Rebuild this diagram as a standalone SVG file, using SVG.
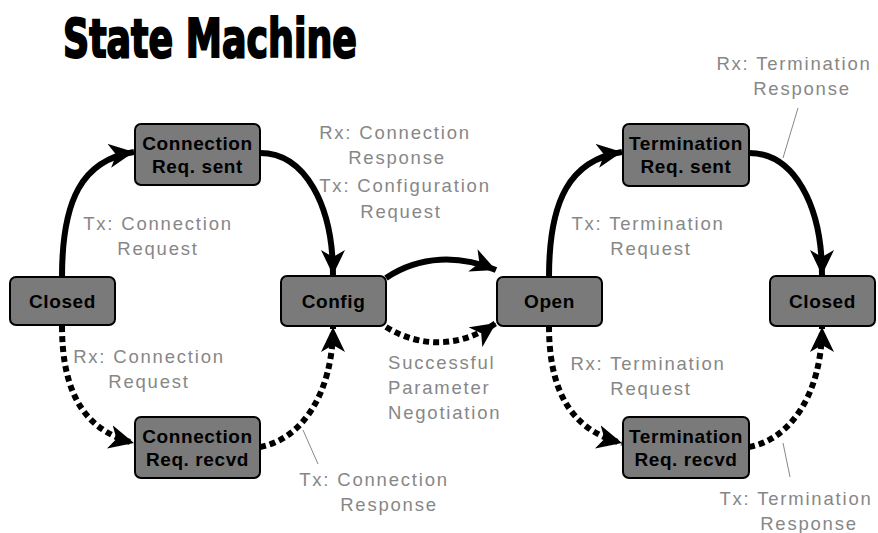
<svg xmlns="http://www.w3.org/2000/svg" width="878" height="533" viewBox="0 0 878 533">
  <style>
    .node rect { fill: #7a7a7a; stroke: #000; stroke-width: 2; }
    .node text { font-family: "Liberation Sans", Arial, sans-serif; font-weight: bold; font-size: 19px; fill: #000; text-anchor: middle; letter-spacing: 0.6px; }
    .edge { fill: none; stroke: #000; stroke-width: 6; }
    .dotted { stroke-dasharray: 6 4; }
    .lbl { font-family: "Liberation Sans", Arial, sans-serif; font-size: 18.5px; fill: #878787; letter-spacing: 1.8px; }
    .mid { text-anchor: middle; }
    .leader { stroke: #888; stroke-width: 1; fill: none; }
    .title { font-family: "DejaVu Sans Condensed", "DejaVu Sans", sans-serif; font-weight: bold; font-size: 54px; fill: #000; stroke: #000; stroke-width: 2; }
  </style>
  <defs>
    <marker id="arrow" markerUnits="userSpaceOnUse" markerWidth="26" markerHeight="24" refX="25" refY="12" orient="auto">
      <path d="M0,0 L25,12 L0,24 L7,12 Z" fill="#000"/>
    </marker>
  </defs>

  <rect width="878" height="533" fill="#fff"/>

  <text class="title" x="63" y="57" textLength="294" lengthAdjust="spacingAndGlyphs">State Machine</text>

  <!-- connectors -->
  <g id="connectors">
    <path class="edge" d="M62,277 C62,200 82,160 134,152" marker-end="url(#arrow)"/>
    <path class="edge" d="M260,153 C305,153 333,205 333,275" marker-end="url(#arrow)"/>
    <path class="edge dotted" d="M62,326 C62,400 90,432 134,443" marker-end="url(#arrow)"/>
    <path class="edge dotted" d="M260,447 C300,440 333,395 333,327" marker-end="url(#arrow)"/>
    <path class="edge" d="M386,278 C420,255 460,255 496,270" marker-end="url(#arrow)"/>
    <path class="edge dotted" d="M386,327 C420,348 460,348 496,323" marker-end="url(#arrow)"/>
    <path class="edge" d="M549,277 C549,200 570,160 622,152" marker-end="url(#arrow)"/>
    <path class="edge" d="M749,153 C794,153 822,205 822,275" marker-end="url(#arrow)"/>
    <path class="edge dotted" d="M549,326 C549,400 578,432 622,443" marker-end="url(#arrow)"/>
    <path class="edge dotted" d="M749,447 C789,440 822,395 822,327" marker-end="url(#arrow)"/>
    <!-- label leaders -->
    <path class="leader" d="M303,430 L318,464"/>
    <path class="leader" d="M798,108 L783,158"/>
    <path class="leader" d="M783,443 L790,477"/>
  </g>

  <!-- states -->
  <g id="closed-left" class="node">
    <rect x="10" y="277" width="105" height="48" rx="6"/>
    <text x="62.5" y="308">Closed</text>
  </g>
  <g id="conn-req-sent" class="node">
    <rect x="135" y="124" width="125" height="61" rx="6"/>
    <text x="197.5" y="150">Connection</text>
    <text x="197.5" y="173">Req. sent</text>
  </g>
  <g id="conn-req-recvd" class="node">
    <rect x="135" y="417" width="125" height="61" rx="6"/>
    <text x="197.5" y="443">Connection</text>
    <text x="197.5" y="466">Req. recvd</text>
  </g>
  <g id="config" class="node">
    <rect x="281" y="276" width="105" height="50" rx="6"/>
    <text x="333.5" y="308">Config</text>
  </g>
  <g id="open" class="node">
    <rect x="497" y="277" width="105" height="49" rx="6"/>
    <text x="549.5" y="308">Open</text>
  </g>
  <g id="term-req-sent" class="node">
    <rect x="623" y="124" width="126" height="62" rx="6"/>
    <text x="686" y="150">Termination</text>
    <text x="686" y="173">Req. sent</text>
  </g>
  <g id="term-req-recvd" class="node">
    <rect x="623" y="417" width="126" height="61" rx="6"/>
    <text x="686" y="443">Termination</text>
    <text x="686" y="466">Req. recvd</text>
  </g>
  <g id="closed-right" class="node">
    <rect x="770" y="276" width="105" height="50" rx="6"/>
    <text x="822.5" y="308">Closed</text>
  </g>

  <!-- transition labels -->
  <g id="labels">
    <text class="lbl mid" x="158" y="230">Tx: Connection</text>
    <text class="lbl mid" x="158" y="255">Request</text>

    <text class="lbl mid" x="149" y="363">Rx: Connection</text>
    <text class="lbl mid" x="149" y="388">Request</text>

    <text class="lbl mid" x="395" y="139">Rx: Connection</text>
    <text class="lbl mid" x="397" y="164">Response</text>
    <text class="lbl mid" x="405" y="192">Tx: Configuration</text>
    <text class="lbl mid" x="401" y="218">Request</text>

    <text class="lbl" x="388" y="369">Successful</text>
    <text class="lbl" x="388" y="394">Parameter</text>
    <text class="lbl" x="388" y="419">Negotiation</text>

    <text class="lbl mid" x="374" y="486">Tx: Connection</text>
    <text class="lbl mid" x="389" y="511">Response</text>

    <text class="lbl mid" x="794" y="70">Rx: Termination</text>
    <text class="lbl mid" x="802" y="95">Response</text>

    <text class="lbl mid" x="648" y="230">Tx: Termination</text>
    <text class="lbl mid" x="651" y="255">Request</text>

    <text class="lbl mid" x="648" y="370">Rx: Termination</text>
    <text class="lbl mid" x="651" y="395">Request</text>

    <text class="lbl mid" x="796" y="505">Tx: Termination</text>
    <text class="lbl mid" x="809" y="530">Response</text>
  </g>
</svg>
